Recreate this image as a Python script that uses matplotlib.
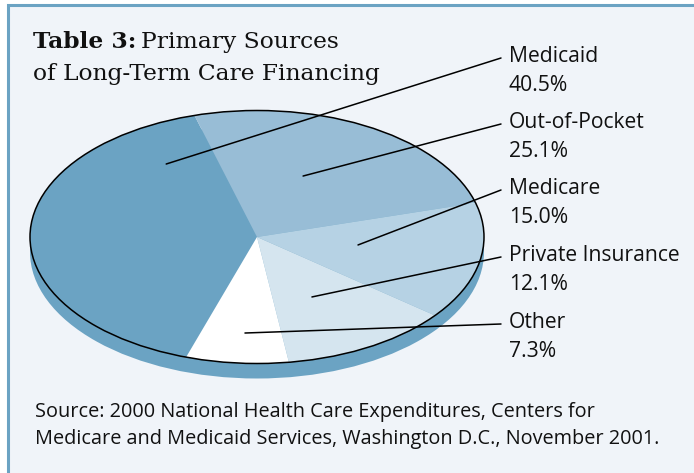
import matplotlib
matplotlib.use('Agg')
import matplotlib.pyplot as plt
import matplotlib.patches as mpatches

# data
sources = ['Medicaid', 'Out-of-Pocket', 'Medicare', 'Private Insurance', 'Other']
shares = [40.5, 25.1, 15.0, 12.1, 7.3]
colors = ['#6ba3c3', '#98bdd6', '#b6d2e4', '#d5e5ef', '#ffffff']

# leader line anchors inside the slices (pie units) and label rows (pixels)
anchors = [(-0.40, 0.577), (0.203, 0.482), (0.445, -0.063), (0.242, -0.474), (-0.053, -0.759)]
label_y = [62, 128, 194, 261, 328]

W, H = 694, 473
fig = plt.figure(figsize=(W / 100, H / 100), dpi=100)
fig.patch.set_facecolor('white')

# background panel in pixel coordinates
bg = fig.add_axes([0, 0, 1, 1])
bg.set_xlim(0, W)
bg.set_ylim(H, 0)
bg.axis('off')
bg.add_patch(mpatches.Rectangle((8.3, 5.5), W + 20, H + 20, facecolor='#f0f4f9',
                                edgecolor='#6ba3c3', lw=2.2))

# pie, squashed into an ellipse
cx, cy, rx, ry = 257, 237, 227, 126.5
depth = 15 / ry
x0, x1, y0, y1 = -1.1, 1.1, -1.25, 1.1
ax = fig.add_axes([(cx + x0 * rx) / W, (H - (cy - y0 * ry)) / H,
                   (x1 - x0) * rx / W, (y1 - y0) * ry / H])
ax.pie(shares, colors=colors, startangle=251.8, counterclock=False,
       wedgeprops=dict(linewidth=0, zorder=2))
ax.add_patch(mpatches.Circle((0, -depth), 1, color='#6ba3c3', lw=0, zorder=1))
ax.add_patch(mpatches.Rectangle((-1, -depth), 2, depth, color='#6ba3c3', lw=0, zorder=1))
ax.add_patch(mpatches.Circle((0, 0), 1, fill=False, ec='black', lw=1.1, zorder=3))
ax.set_xlim(x0, x1)
ax.set_ylim(y0, y1)
ax.set_aspect('auto')
ax.axis('off')

sans = 'Open Sans'
for name, val, a, y in zip(sources, shares, anchors, label_y):
    ax.annotate('', xy=a, xycoords='data', xytext=(501, y - 4), textcoords=bg.transData,
                arrowprops=dict(arrowstyle='-', lw=1.1, color='black', shrinkA=0, shrinkB=0),
                zorder=4)
    bg.text(509, y, name, fontsize=15.2, family=sans, va='baseline', color='#111111')
    bg.text(509, y + 29, f'{val:.1f}%', fontsize=15.2, family=sans, va='baseline', color='#111111')

# title with bold lead-in
t1 = bg.text(33, 48, 'Table 3:', fontsize=16.8, family='DejaVu Serif', weight='bold',
             va='baseline', color='#111111')
fig.canvas.draw()
ext = t1.get_window_extent()
bg.text(ext.x1 + 5, 48, 'Primary Sources', fontsize=16.8, family='DejaVu Serif',
        va='baseline', color='#111111')
bg.text(33, 80, 'of Long-Term Care Financing', fontsize=16.8, family='DejaVu Serif',
        va='baseline', color='#111111')

bg.text(35, 417, 'Source: 2000 National Health Care Expenditures, Centers for',
        fontsize=14.3, family=sans, va='baseline', color='#111111')
bg.text(35, 444, 'Medicare and Medicaid Services, Washington D.C., November 2001.',
        fontsize=14.3, family=sans, va='baseline', color='#111111')

fig.savefig('out.png', dpi=100)
